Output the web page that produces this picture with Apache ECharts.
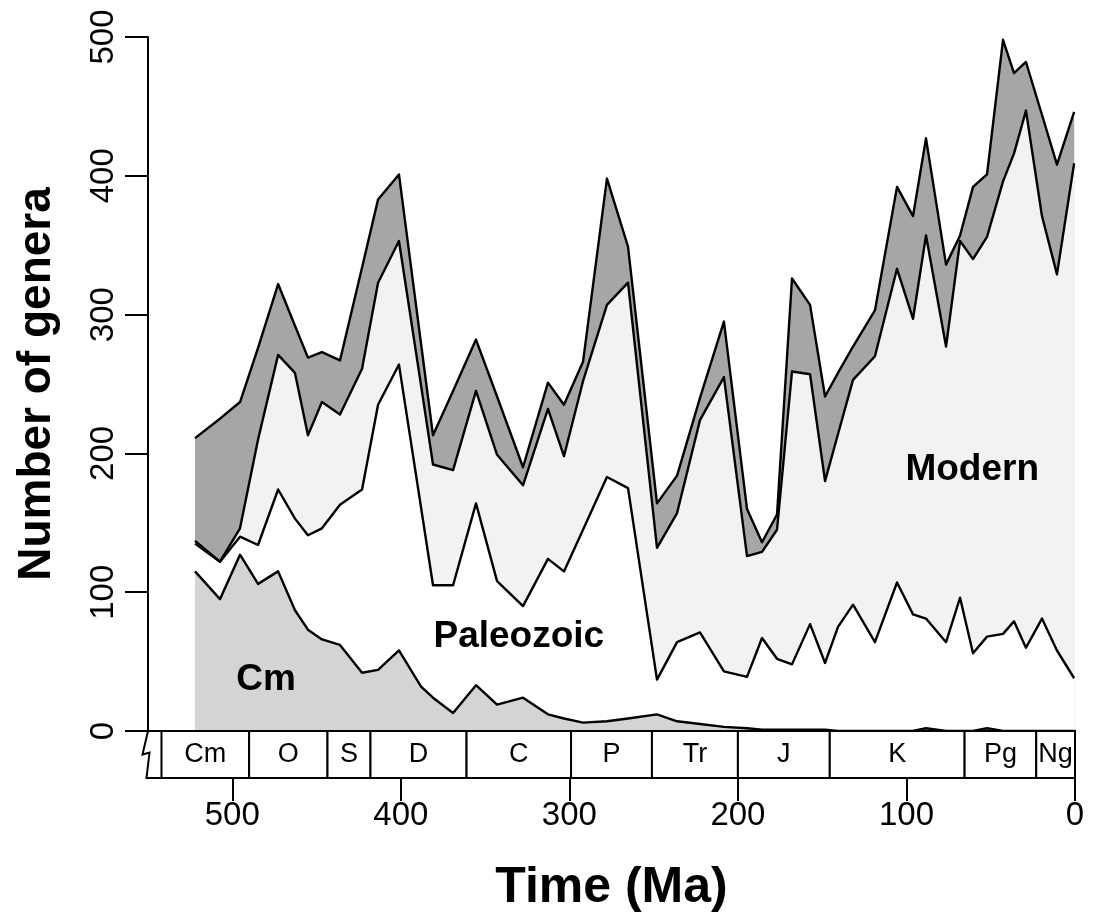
<!DOCTYPE html>
<html>
<head>
<meta charset="utf-8">
<script src="https://cdn.jsdelivr.net/npm/echarts@6/dist/echarts.min.js"></script>
<style>html,body{margin:0;padding:0;background:#fff}#chart{width:1096px;height:921px}</style>
</head>
<body>
<div id="chart"></div>
<script>
// ---- data ----
const times = [522.1, 507.3, 495.4, 484.7, 472.8, 462.8, 455.1, 446.8, 436.1, 423.0, 413.5, 401.1,
  388.0, 380.9, 369.0, 355.4, 342.9, 327.5, 312.7, 303.2, 291.9, 277.7, 265.2, 248.0,
  236.1, 222.5, 208.3, 194.6, 185.7, 176.8, 167.9, 157.2, 148.3, 140.6, 131.7, 118.7,
  105.6, 96.1, 88.4, 76.5, 68.2, 60.5, 52.2, 42.7, 36.2, 29.1, 19.6, 10.7, 0.5];
const cambrian = [115, 95, 127, 106, 115, 87, 73, 66, 62, 42, 44, 58,
  32, 24, 13, 33, 19, 24, 12, 9, 6, 7, 9, 12,
  7, 5, 3, 2, 1, 1, 1, 1, 1, 0, 0, 0,
  0, 0, 2, 0, 0, 0, 2, 0, 0, 0, 0, 0, 0];
const paleozoic = [20, 27, 13, 28, 59, 66, 68, 80, 101, 132, 191, 206,
  129, 81, 92, 131, 89, 66, 112, 106, 139, 176, 166, 25,
  57, 66, 40, 37, 66, 51, 47, 76, 48, 75, 91, 64,
  107, 84, 79, 64, 96, 56, 66, 70, 79, 60, 81, 58, 38];
const modern = [2, 0, 6, 76, 97, 105, 72, 91, 65, 87, 88, 89,
  88, 87, 83, 81, 91, 87, 108, 83, 107, 124, 148, 95,
  93, 153, 212, 87, 62, 93, 211, 180, 131, 139, 162, 206,
  226, 213, 276, 213, 257, 284, 288, 326, 337, 387, 290, 271, 371];
const other = [74, 103, 91, 66, 51, 34, 56, 36, 39, 73, 60, 48,
  30, 21, 57, 37, 42, 13, 19, 37, 14, 91, 26, 32,
  27, 16, 40, 34, 7, 11, 67, 50, 61, 44, 24, 33,
  59, 74, 70, 59, 4, 52, 45, 102, 58, 35, 73, 79, 37];
const yTicks = [0, 100, 200, 300, 400, 500];
const xTicks = [0, 100, 200, 300, 400, 500];
const periodNames = ['Cm', 'O', 'S', 'D', 'C', 'P', 'Tr', 'J', 'K', 'Pg', 'Ng'];
const periodBounds = [542, 490, 443.5, 418, 361, 299, 251, 200, 145.5, 65.5, 23, 0];
const regionNames = ['Cm', 'Paleozoic', 'Modern'];

// ---- layout / style ----
const FONT = '"Liberation Sans", Arial, Helvetica, sans-serif';
const labelSpots = [[480, 37], [330, 68], [61, 188]];

function cumulative(arrs) {
  return times.map((t, i) => [t, arrs.reduce((s, a) => s + a[i], 0)]);
}
const cmLine = cumulative([cambrian]);
const palLine = cumulative([cambrian, paleozoic]);
const modLine = cumulative([cambrian, paleozoic, modern]);
const totLine = cumulative([cambrian, paleozoic, modern, other]);

function areaSeries(name, data, color) {
  return {
    name, type: 'line', xAxisIndex: 0, yAxisIndex: 0, data,
    showSymbol: false, symbol: 'none', silent: true, animation: false, z: 2,
    lineStyle: { color: '#000', width: 2.4, join: 'round' },
    areaStyle: { color, opacity: 1, origin: 'start' }
  };
}

const chart = echarts.init(document.getElementById('chart'), null, { renderer: 'canvas' });
chart.setOption({
  backgroundColor: '#fff',
  animation: false,
  grid: [
    { left: 148, right: 21, top: 37, bottom: 190, containLabel: false, outerBoundsMode: 'none' },
    { left: 148, right: 21, top: 731, bottom: 143, containLabel: false, outerBoundsMode: 'none' }
  ],
  xAxis: [
    {
      gridIndex: 0, type: 'value', min: 0, max: 550, inverse: true, position: 'bottom',
      axisLine: { show: true, onZero: false, lineStyle: { color: '#000', width: 2 } },
      axisTick: { show: false }, axisLabel: { show: false }, splitLine: { show: false }
    },
    {
      gridIndex: 1, type: 'value', min: 0, max: 550, inverse: true, interval: 100, position: 'bottom',
      axisLine: { show: true, onZero: false, lineStyle: { color: '#000', width: 2 } },
      axisTick: { show: true, length: 23, inside: false, customValues: xTicks, lineStyle: { color: '#000', width: 2 } },
      axisLabel: { show: true, customValues: xTicks, margin: 21, fontSize: 33, color: '#000', fontFamily: FONT,
        formatter: v => (xTicks.indexOf(v) >= 0 ? String(v) : '') },
      splitLine: { show: false },
      name: 'Time (Ma)', nameLocation: 'middle', nameGap: 85,
      nameTextStyle: { fontSize: 50, fontWeight: 'bold', color: '#000', fontFamily: FONT }
    }
  ],
  yAxis: [
    {
      gridIndex: 0, type: 'value', min: 0, max: 500, interval: 100, position: 'left',
      axisLine: { show: true, onZero: false, lineStyle: { color: '#000', width: 2 } },
      axisTick: { show: true, length: 23, inside: false, lineStyle: { color: '#000', width: 2 } },
      axisLabel: { show: true, rotate: 90, margin: 28, fontSize: 33, color: '#000', fontFamily: FONT,
        formatter: v => (yTicks.indexOf(v) >= 0 ? String(v) : '') },
      splitLine: { show: false },
      name: 'Number of genera', nameLocation: 'middle', nameGap: 88,
      nameTextStyle: { fontSize: 46, fontWeight: 'bold', color: '#000', fontFamily: FONT }
    },
    { gridIndex: 1, type: 'value', min: 0, max: 1, show: false }
  ],
  series: [
    areaSeries('Other', totLine, '#a6a6a6'),
    areaSeries('Modern', modLine, '#f2f2f2'),
    areaSeries('Paleozoic', palLine, '#ffffff'),
    areaSeries('Cm', cmLine, '#d4d4d4'),
    {
      type: 'custom', xAxisIndex: 0, yAxisIndex: 0, silent: true, animation: false, z: 5,
      data: labelSpots, encode: { x: 0, y: 1 },
      renderItem: function (params, api) {
        const p = api.coord([api.value(0), api.value(1)]);
        return {
          type: 'text',
          style: { text: regionNames[params.dataIndex], x: p[0], y: p[1], align: 'center', verticalAlign: 'middle',
            font: 'bold 37px ' + FONT, fill: '#000000' }
        };
      }
    },
    {
      type: 'custom', xAxisIndex: 1, yAxisIndex: 1, silent: true, animation: false, z: 3,
      data: periodNames.map((n, i) => [periodBounds[i], periodBounds[i + 1]]),
      encode: { x: [0, 1] },
      renderItem: function (params, api) {
        const a = api.coord([api.value(0), 1]);
        const b = api.coord([api.value(1), 0]);
        const x0 = Math.min(a[0], b[0]);
        const w = Math.abs(b[0] - a[0]);
        return {
          type: 'group',
          children: [
            { type: 'rect', shape: { x: x0, y: a[1], width: w, height: b[1] - a[1] },
              style: { fill: '#fff', stroke: '#000', lineWidth: 2 } },
            { type: 'text', style: { text: periodNames[params.dataIndex], x: x0 + w / 2, y: (a[1] + b[1]) / 2,
              align: 'center', verticalAlign: 'middle', font: '27px ' + FONT, fill: '#000' } }
          ]
        };
      }
    },
    {
      type: 'custom', xAxisIndex: 1, yAxisIndex: 1, silent: true, animation: false, z: 4,
      data: [[550]], encode: { x: 0 },
      renderItem: function (params, api) {
        const top = api.coord([550, 1]);
        const bot = api.coord([550, 0]);
        const x = top[0], h = bot[1] - top[1];
        return {
          type: 'polyline',
          shape: { points: [[x, top[1]], [x - 5.5, top[1] + 0.5 * h], [x + 1.5, top[1] + 0.46 * h],
            [x - 1.5, bot[1]], [x + 2, bot[1]]] },
          style: { stroke: '#000', lineWidth: 2, fill: null }
        };
      }
    }
  ]
});
</script>
</body>
</html>
